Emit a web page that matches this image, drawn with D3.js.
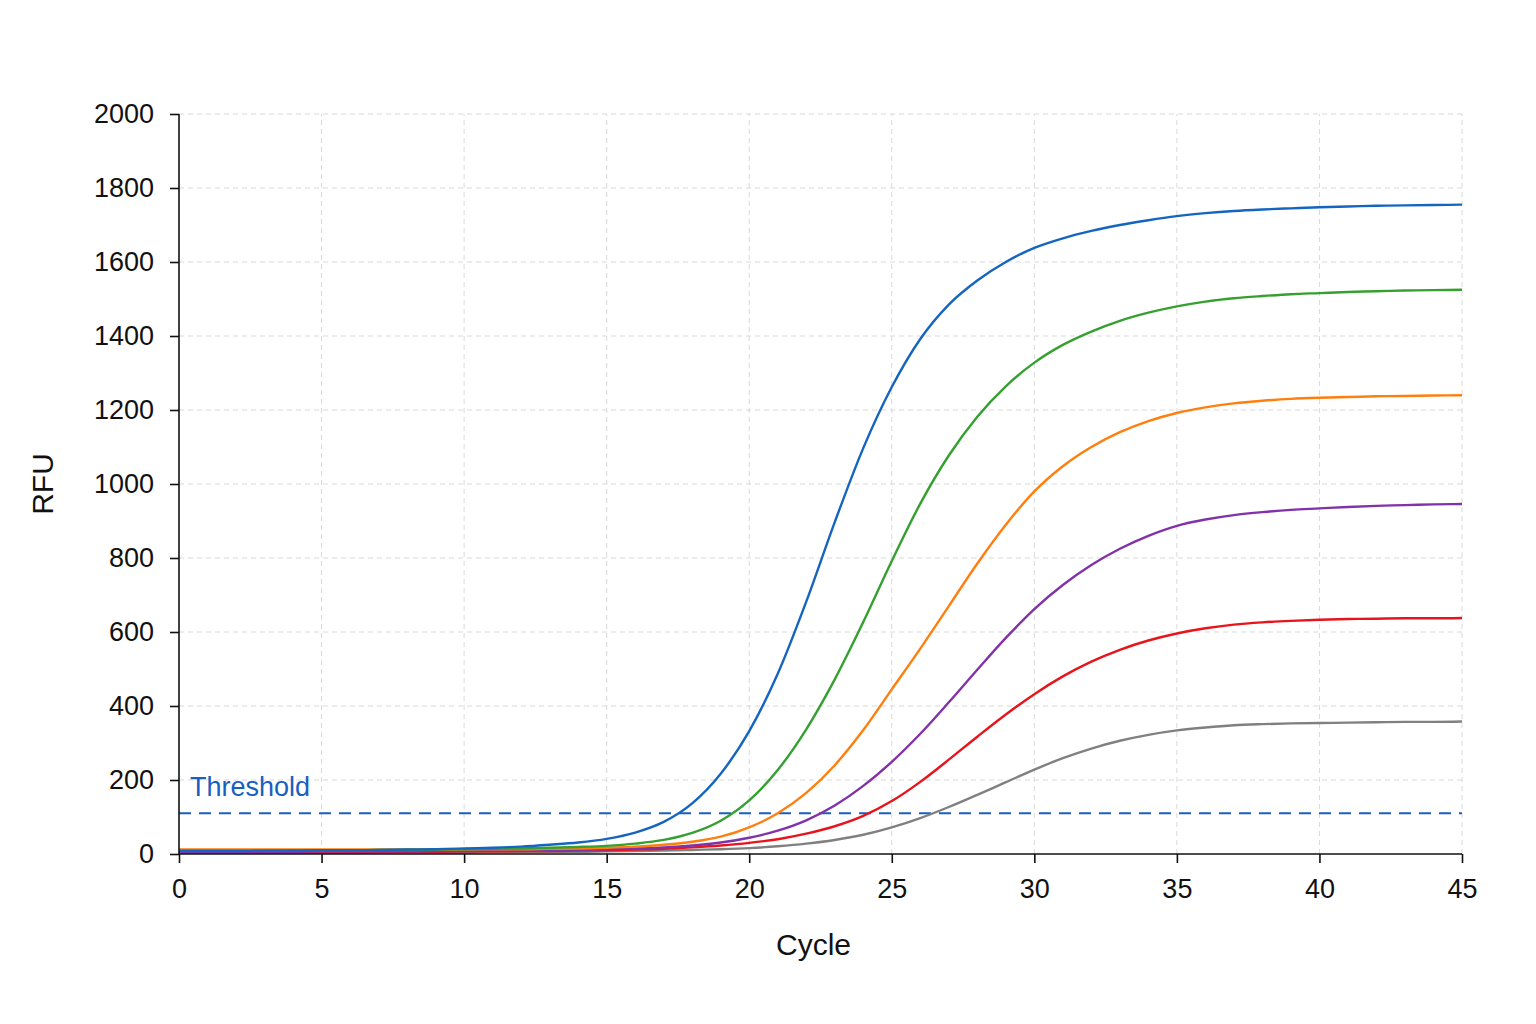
<!DOCTYPE html>
<html>
<head>
<meta charset="utf-8">
<script src="https://cdn.jsdelivr.net/npm/d3@7"></script>
<style>
  html, body { margin: 0; padding: 0; background: #fff; }
  svg { display: block; font-family: "Liberation Sans", Arial, Helvetica, sans-serif; }
</style>
</head>
<body>
<svg id="chart" width="1536" height="1024"></svg>
<script>
// ---- data ----
const cycles = d3.range(0, 46);
const xTicks = [0, 5, 10, 15, 20, 25, 30, 35, 40, 45];
const yTicks = [0, 200, 400, 600, 800, 1000, 1200, 1400, 1600, 1800, 2000];
const thresholdValue = 110;
const thresholdLabel = "Threshold";
const xTitle = "Cycle";
const yTitle = "RFU";

const seriesNames = ["S1", "S2", "S3", "S4", "S5", "S6"];
const seriesColors = ["#1565c0", "#35a02f", "#ff7f0e", "#8232a8", "#e8141c", "#808080"];

const blue = [8, 8, 8, 9, 9, 10, 10, 11, 12, 13, 15, 17, 20, 25, 31, 41, 58, 87, 137, 217,
  332, 487, 682, 897, 1097, 1262, 1392, 1485, 1550, 1600, 1638, 1664, 1684, 1700, 1713,
  1724, 1732, 1738, 1742, 1745, 1748, 1750, 1752, 1753, 1754, 1755];
const green = [9, 9, 9, 9, 10, 10, 10, 11, 11, 12, 13, 14, 15, 17, 19, 22, 28, 38, 57, 90,
  145, 227, 337, 472, 627, 792, 947, 1077, 1182, 1264, 1328, 1376, 1412, 1441, 1463,
  1480, 1493, 1502, 1508, 1513, 1516, 1519, 1521, 1523, 1524, 1525];
const orange = [12, 12, 12, 12, 12, 12, 12, 12, 12, 12, 12, 13, 13, 14, 15, 17, 20, 25, 33, 47,
  72, 110, 165, 240, 335, 445, 555, 670, 785, 890, 980, 1048, 1100, 1140, 1170,
  1192, 1207, 1218, 1225, 1230, 1233, 1235, 1237, 1238, 1239, 1240];
const purple = [6, 6, 6, 6, 6, 7, 7, 7, 7, 8, 8, 9, 9, 10, 11, 13, 15, 18, 23, 31,
  44, 63, 91, 131, 184, 249, 325, 410, 498, 584, 662, 727, 781, 825, 860,
  887, 904, 916, 924, 930, 934, 938, 941, 943, 945, 946];
const red = [5, 5, 5, 5, 5, 5, 6, 6, 6, 6, 7, 7, 8, 8, 9, 10, 12, 14, 18, 23,
  30, 40, 55, 75, 103, 143, 195, 255, 317, 377, 432, 480, 520, 552, 577,
  596, 610, 620, 626, 630, 633, 635, 636, 637, 637, 638];
const gray = [3, 3, 3, 3, 3, 3, 3, 4, 4, 4, 4, 5, 5, 6, 6, 7, 8, 9, 11, 13,
  16, 21, 28, 38, 52, 72, 97, 127, 160, 194, 228, 259, 285, 306, 322,
  334, 342, 348, 351, 353, 354, 355, 356, 357, 357, 358];

const seriesValues = [blue, green, orange, purple, red, gray];

// ---- drawing ----
const svg = d3.select("#chart");
const x = d3.scaleLinear().domain([0, 45]).range([179, 1462]);
const y = d3.scaleLinear().domain([0, 2000]).range([854, 114]);

// grid
const grid = svg.append("g").attr("class", "grid");
grid.selectAll("line.h").data(yTicks.filter(d => d > 0)).enter().append("line")
  .attr("x1", x(0)).attr("x2", x(45))
  .attr("y1", d => y(d)).attr("y2", d => y(d))
  .attr("stroke", "#d9d9d9").attr("stroke-width", 1).attr("stroke-dasharray", "5,4");
grid.selectAll("line.v").data(xTicks.filter(d => d > 0)).enter().append("line")
  .attr("y1", y(0)).attr("y2", y(2000))
  .attr("x1", d => x(d)).attr("x2", d => x(d))
  .attr("stroke", "#d9d9d9").attr("stroke-width", 1).attr("stroke-dasharray", "5,4");

// threshold
svg.append("line")
  .attr("x1", x(0)).attr("x2", x(45))
  .attr("y1", y(thresholdValue)).attr("y2", y(thresholdValue))
  .attr("stroke", "#1a5fbf").attr("stroke-width", 2).attr("stroke-dasharray", "12,8");
svg.append("text")
  .attr("x", x(0) + 11).attr("y", y(thresholdValue) - 17)
  .attr("fill", "#1a5fbf").attr("font-size", 27)
  .text(thresholdLabel);

// lines
const line = d3.line()
  .x((d, i) => x(cycles[i]))
  .y(d => y(d))
  .curve(d3.curveMonotoneX);

const order = [5, 4, 3, 2, 1, 0];
svg.append("g").selectAll("path").data(order).enter().append("path")
  .attr("d", i => line(seriesValues[i]))
  .attr("fill", "none")
  .attr("stroke", i => seriesColors[i])
  .attr("stroke-width", 2.4)
  .attr("stroke-linejoin", "round");

// axes
const xAxis = d3.axisBottom(x).tickValues(xTicks).tickSize(9).tickPadding(16).tickFormat(d3.format("d"));
const yAxis = d3.axisLeft(y).tickValues(yTicks).tickSize(9).tickPadding(16).tickFormat(d3.format("d"));

const gx = svg.append("g").attr("transform", `translate(0,${y(0)})`).call(xAxis);
const gy = svg.append("g").attr("transform", `translate(${x(0)},0)`).call(yAxis);
[gx, gy].forEach(g => {
  g.select(".domain").attr("stroke", "#111").attr("stroke-width", 1.6);
  g.selectAll(".tick line").attr("stroke", "#111").attr("stroke-width", 1.6);
  g.selectAll(".tick text").attr("fill", "#111").attr("font-size", 27)
    .attr("font-family", "'Liberation Sans', Arial, sans-serif");
});
gx.select(".domain").attr("d", `M${x(0)},0H${x(45)}`);
gy.select(".domain").attr("d", `M0,${y(0)}V${y(2000)}`);

// titles
svg.append("text")
  .attr("x", (x(0) + x(45)) / 2 - 7).attr("y", 955)
  .attr("text-anchor", "middle").attr("font-size", 30).attr("fill", "#111")
  .text(xTitle);
svg.append("text")
  .attr("transform", `translate(53,${(y(0) + y(2000)) / 2}) rotate(-90)`)
  .attr("text-anchor", "middle").attr("font-size", 30).attr("fill", "#111")
  .text(yTitle);
</script>
</body>
</html>
